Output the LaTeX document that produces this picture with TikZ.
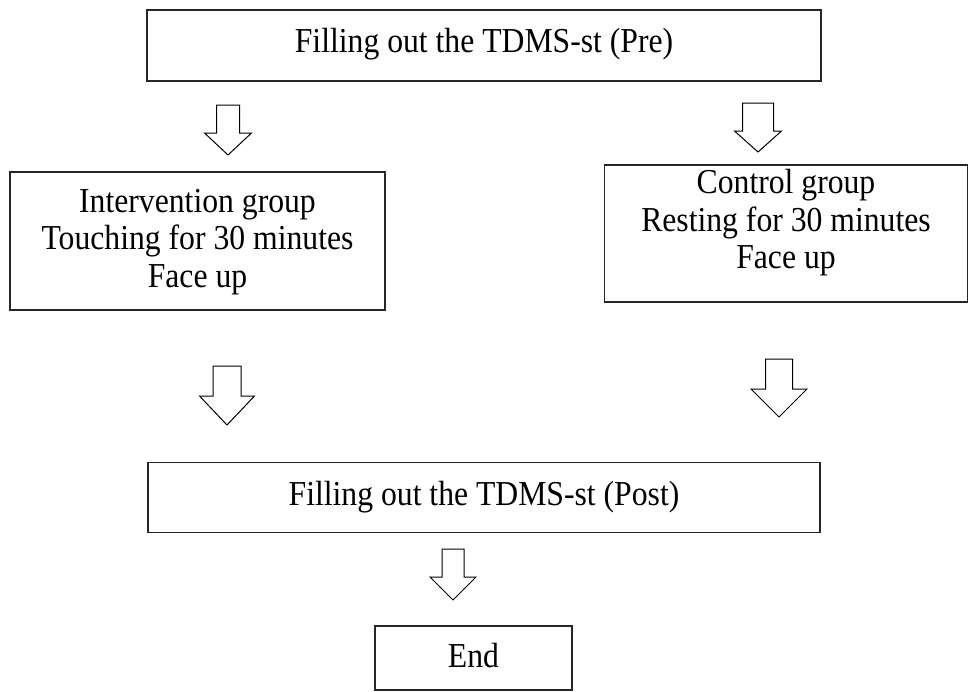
\documentclass[tikz,border=0pt]{standalone}
\usepackage{fontspec}
\setmainfont{Liberation Serif}
% slightly condensed face for the box labels
\newfontfamily\labelfont{Liberation Serif}[FakeStretch=0.905]
% hollow down-pointing block arrow:
% #1 centre x, #2 top y, #3 half shaft width, #4 half head width, #5 head base y, #6 tip y
\newcommand\downblock[6]{%
  \draw[flowarrow] ({#1-#3},#2) -- ({#1+#3},#2) -- ({#1+#3},#5) -- ({#1+#4},#5)
    -- (#1,#6) -- ({#1-#4},#5) -- ({#1-#3},#5) -- cycle;}
\begin{document}
\begin{tikzpicture}[x=1pt,y=-1pt,
  box/.style={draw=black!85, line width=1.3pt, inner sep=0pt},
  txt/.style={font=\labelfont\fontsize{35}{37.5}\selectfont, align=center, inner sep=0pt},
  flowarrow/.style={draw=black, line width=1pt, fill=white, line join=miter}]
\useasboundingbox (0,0) rectangle (969,691);

% boxes
\node[box, minimum width=674pt, minimum height=71pt] (pre)  at (484,45.5) {};
\node[box, minimum width=375pt, minimum height=138pt] (interv) at (197.5,241) {};
\node[box, minimum width=363pt, minimum height=137pt] (ctrl) at (786,233.5) {};
\node[box, minimum width=672pt, minimum height=70pt] (post) at (484,497.5) {};
\node[box, minimum width=197pt, minimum height=64pt] (fin)  at (473.5,658) {};

% texts
\node[txt] (preT)    at (484,44) {Filling out the TDMS-st (Pre)};
\node[txt] (intervT) at (197.5,242) {Intervention group\\Touching for 30 minutes\\Face up};
\node[txt] (ctrlT)   at (786,223) {Control group\\Resting for 30 minutes\\Face up};
\node[txt] (postT)   at (484,497) {Filling out the TDMS-st (Post)};
\node[txt] (finT)    at (473.5,656) {End};

% block arrows
\downblock{228}{105}{11.5}{23.5}{133}{155}
\downblock{758}{103}{15.5}{23.5}{131}{152}
\downblock{227}{366}{14}{27.5}{396}{425}
\downblock{779}{359}{13.5}{28}{389}{417}
\downblock{453}{549}{11}{23}{577}{600}
\end{tikzpicture}
\end{document}
